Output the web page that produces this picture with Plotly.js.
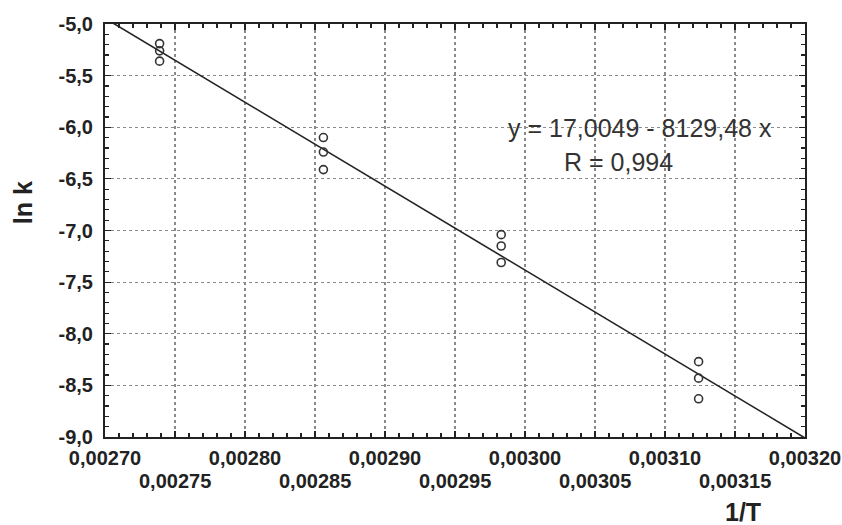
<!DOCTYPE html>
<html>
<head>
<meta charset="utf-8">
<script src="https://cdn.plot.ly/plotly-3.0.1.min.js"></script>
<style>html,body{margin:0;padding:0;background:#fff;}#chart{width:842px;height:525px;}</style>
</head>
<body>
<div id="chart"></div>
<script>
// Measured data: 1/T and ln k (three replicates at each temperature)
const invT = [0.002739, 0.002739, 0.002739,
              0.002856, 0.002856, 0.002856,
              0.002983, 0.002983, 0.002983,
              0.003124, 0.003124, 0.003124];
const lnK  = [-5.19, -5.26, -5.36,
              -6.10, -6.24, -6.41,
              -7.04, -7.15, -7.31,
              -8.27, -8.43, -8.63];

// Linear fit parameters
const fitIntercept = 17.0049;
const fitSlope = -8129.48;
const fitX = [0.0027, 0.0032];
const fitY = fitX.map(x => fitIntercept + fitSlope * x);

// Axis ticks
const xRowOneVals = [0.0027, 0.0028, 0.0029, 0.0030, 0.0031, 0.0032];
const xRowOneText = ['0,00270', '0,00280', '0,00290', '0,00300', '0,00310', '0,00320'];
const xRowTwoVals = [0.00275, 0.00285, 0.00295, 0.00305, 0.00315];
const xRowTwoText = ['0,00275', '0,00285', '0,00295', '0,00305', '0,00315'];
const yTickVals = [-9.0, -8.5, -8.0, -7.5, -7.0, -6.5, -6.0, -5.5, -5.0];
const yTickText = ['-9,0', '-8,5', '-8,0', '-7,5', '-7,0', '-6,5', '-6,0', '-5,5', '-5,0'];

const eqText = 'y = 17,0049 - 8129,48 x';
const rText = 'R = 0,994';

const xAllVals = xRowOneVals.concat(xRowTwoVals).sort((a, b) => a - b);
const xAllText = xAllVals.map(v => {
  const i = xRowOneVals.indexOf(v);
  return i >= 0 ? xRowOneText[i] : '';
});

const tickFont = {family: 'Liberation Sans, Arial, sans-serif', size: 20, color: '#222', weight: 'bold'};

const traces = [
  {
    x: fitX, y: fitY, type: 'scatter', mode: 'lines',
    line: {color: '#222', width: 1.6}, hoverinfo: 'skip', showlegend: false
  },
  {
    x: invT, y: lnK, type: 'scatter', mode: 'markers',
    marker: {symbol: 'circle-open', size: 8, color: '#333', line: {width: 1.6, color: '#333'}},
    showlegend: false
  }
];

const annotations = xRowTwoVals.map((v, i) => ({
  x: v, xref: 'x', y: 0, yref: 'paper', yshift: -44,
  text: xRowTwoText[i], showarrow: false, xanchor: 'center', yanchor: 'middle',
  font: tickFont
}));

annotations.push(
  {x: 0.764, y: 0.748, xref: 'paper', yref: 'paper', text: eqText, showarrow: false,
   xanchor: 'center', yanchor: 'middle',
   font: {family: 'Liberation Sans, Arial, sans-serif', size: 25, color: '#333'}},
  {x: 0.733, y: 0.666, xref: 'paper', yref: 'paper', text: rText, showarrow: false,
   xanchor: 'center', yanchor: 'middle',
   font: {family: 'Liberation Sans, Arial, sans-serif', size: 25, color: '#333'}},
  {x: (23 - 105) / 700, xref: 'paper', xanchor: 'center', y: 0.566, yref: 'paper', text: '<b>ln k</b>',
   showarrow: false, textangle: -90, yanchor: 'middle',
   font: {family: 'Liberation Sans, Arial, sans-serif', size: 25, color: '#222'}},
  {x: (743 - 105) / 700, xref: 'paper', y: 0, yref: 'paper', yshift: -75, text: '<b>1/T</b>',
   showarrow: false, xanchor: 'center', yanchor: 'middle',
   font: {family: 'Liberation Sans, Arial, sans-serif', size: 25, color: '#222'}}
);

const layout = {
  width: 842, height: 525,
  margin: {l: 105, r: 37, t: 24, b: 88},
  paper_bgcolor: '#fff', plot_bgcolor: '#fff',
  showlegend: false,
  xaxis: {
    range: [0.0027, 0.0032], autorange: false,
    tickmode: 'array', tickvals: xAllVals, ticktext: xAllText,
    ticks: 'inside', ticklen: 6, tickwidth: 1.2, tickcolor: '#222',
    showline: true, linecolor: '#222', linewidth: 2, mirror: 'ticks',
    showgrid: true, gridcolor: '#8a8a8a', griddash: 'dot', gridwidth: 1.2,
    zeroline: false, tickfont: tickFont, ticklabelstandoff: 2,
    minor: {tick0: 0.0027, dtick: 0.00001, ticks: 'inside', ticklen: 4, tickcolor: '#222', tickwidth: 1.2, showgrid: false}
  },
  yaxis: {
    range: [-9, -5], autorange: false,
    tickmode: 'array', tickvals: yTickVals, ticktext: yTickText,
    ticks: 'inside', ticklen: 6, tickwidth: 1.2, tickcolor: '#222',
    showline: true, linecolor: '#222', linewidth: 2, mirror: 'ticks',
    showgrid: true, gridcolor: '#8a8a8a', griddash: 'dot', gridwidth: 1.2,
    zeroline: false, tickfont: tickFont, ticklabelstandoff: 6,
    minor: {tick0: -9, dtick: 0.1, ticks: 'inside', ticklen: 4, tickcolor: '#222', tickwidth: 1.2, showgrid: false}
  },
  shapes: [
    {type: 'rect', xref: 'paper', yref: 'paper', x0: 0.564, x1: 0.971, y0: 0.627, y1: 0.799,
     fillcolor: '#fff', line: {width: 0}, layer: 'between'}
  ],
  annotations: annotations
};

Plotly.newPlot('chart', traces, layout, {displayModeBar: false, staticPlot: true});
</script>
</body>
</html>
